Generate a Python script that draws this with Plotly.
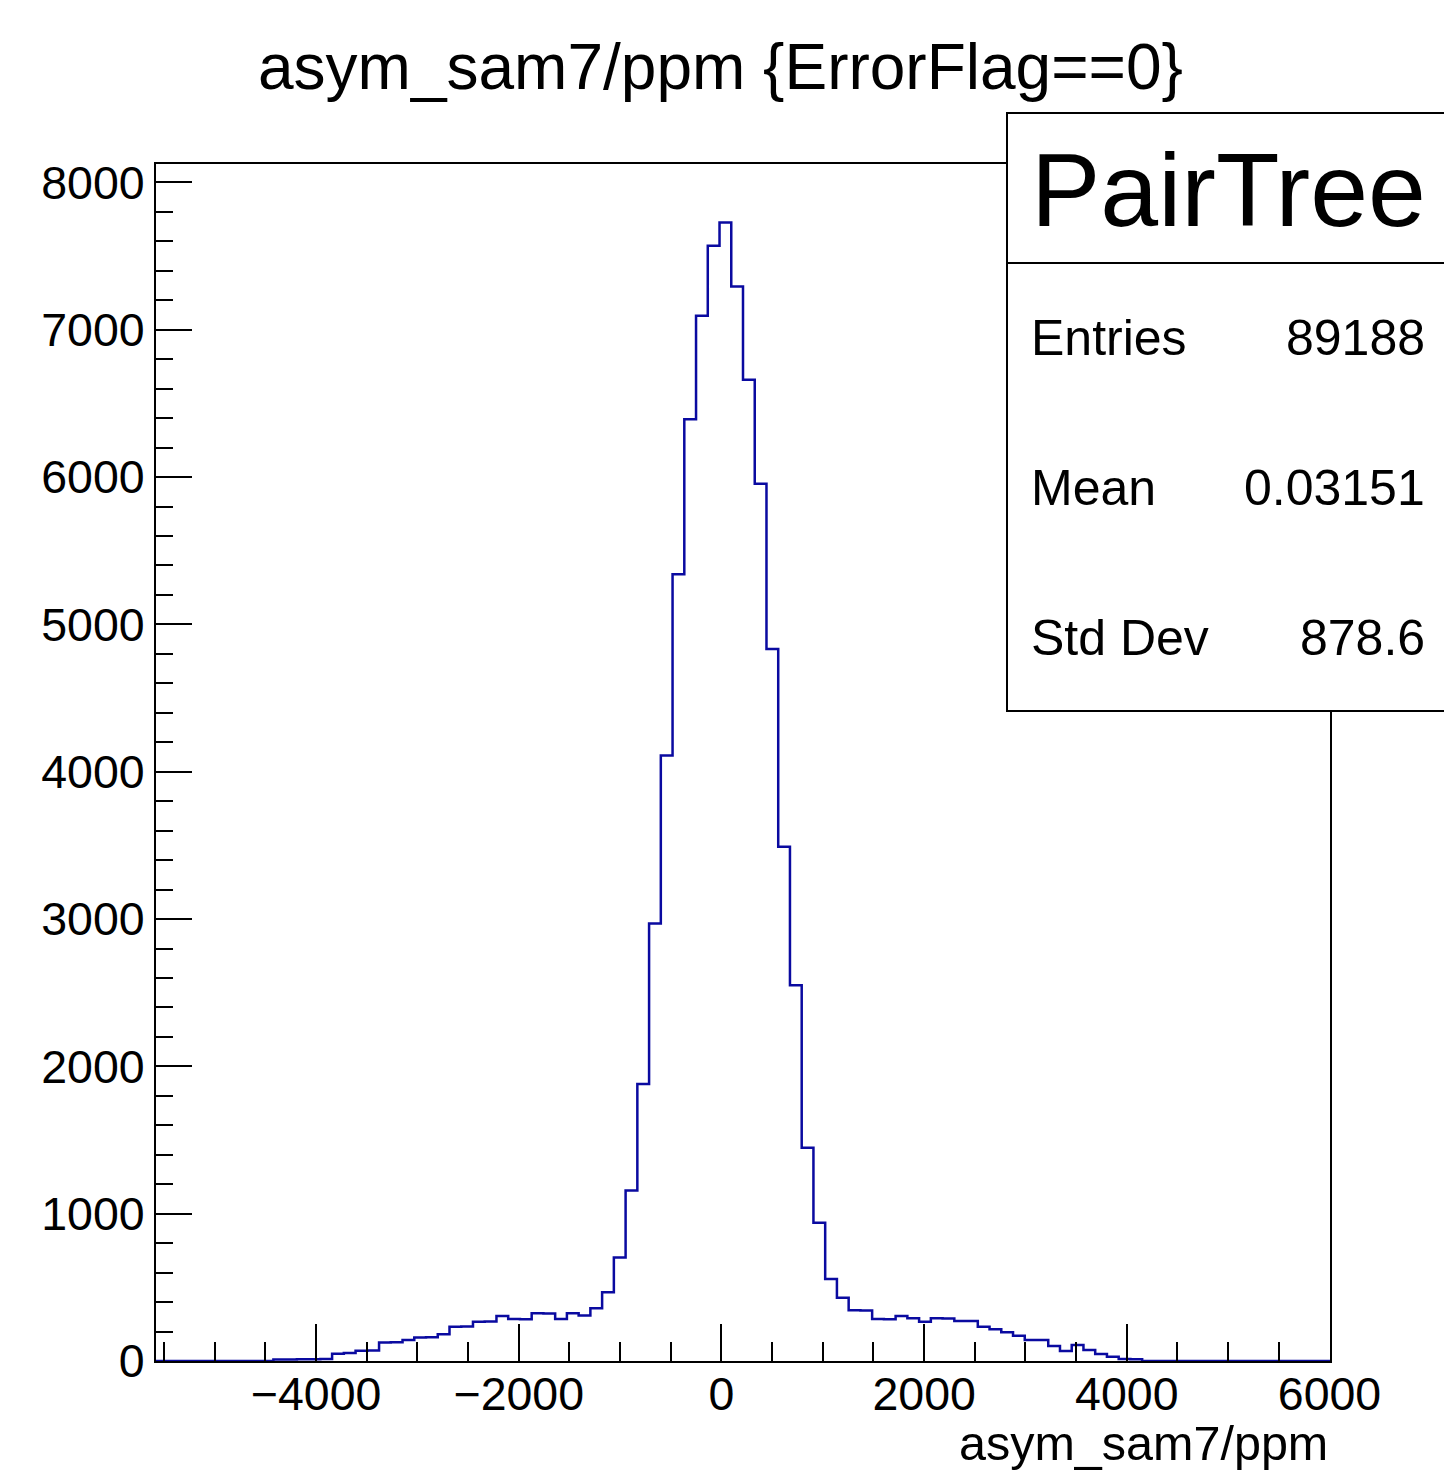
import plotly.graph_objects as go

# ---- data ----
title_text = "asym_sam7/ppm {ErrorFlag==0}"
x_title = "asym_sam7/ppm"
x_lo, x_hi, n_bins = -5580.0, 6005.0, 100
first_filled_bin = 10
filled_counts = [
    10, 11, 12, 12, 13,           # bins 10-14
    50, 54, 70, 72, 125, 128,     # 15-20
    143, 160, 162, 181, 232, 234, # 21-26
    266, 268, 305, 285, 284,      # 27-31
    324, 323, 285, 324, 308,      # 32-36
    358, 466, 703, 1158, 1880,    # 37-41
    2970, 4110, 5340, 6393, 7095, # 42-46
    7570, 7728, 7294, 6660, 5954, # 47-51
    4833, 3490, 2550, 1447, 939,  # 52-56
    557, 430, 344, 342, 285,      # 57-61
    284, 305, 290, 267, 290,      # 62-66
    289, 272, 271, 233, 215,      # 67-71
    195, 172, 143, 142, 102,      # 72-76
    68, 109, 75, 48, 29,          # 77-81
    14, 12,                       # 82-83
]
counts = [0] * first_filled_bin + filled_counts
counts = counts + [0] * (n_bins - len(counts))
y_max = 8125

stats_name = "PairTree"
stats_labels = ["Entries", "Mean", "Std Dev"]
stats_values = ["89188", "0.03151", "878.6"]

x_tick_step, x_minor_step = 2000, 500
y_tick_step, y_minor_step = 1000, 200

# ---- build figure ----
width = (x_hi - x_lo) / n_bins
edges = [x_lo + i * width for i in range(n_bins + 1)]
ys = counts + [counts[-1]]

FONT = "Liberation Sans, Arial, Helvetica, sans-serif"

fig = go.Figure()
fig.add_trace(go.Scatter(
    x=edges, y=ys, mode="lines", line_shape="hv",
    line=dict(color="#0a0aa0", width=2.5), showlegend=False, hoverinfo="skip"))

axis_common = dict(
    showgrid=False, zeroline=False, showline=True, linecolor="black", linewidth=2,
    mirror=True, ticks="inside", tickcolor="black", tickwidth=2,
    tickfont=dict(family=FONT, size=46.5, color="black"),
)
fig.update_xaxes(range=[x_lo, x_hi], tick0=0, dtick=x_tick_step, ticklen=37,
                 ticklabelstandoff=-9,
                 minor=dict(ticks="inside", dtick=x_minor_step, ticklen=19,
                            tickcolor="black", tickwidth=2),
                 **axis_common)
fig.update_yaxes(range=[0, y_max], tick0=0, dtick=y_tick_step, ticklen=36,
                 minor=dict(ticks="inside", dtick=y_minor_step, ticklen=17,
                            tickcolor="black", tickwidth=2),
                 **axis_common)

# page body has an 8px margin: work in screen pixels and convert
OFF = 8
W, H = 1452 - OFF, 1471 - OFF
scr_left, scr_right, scr_top, scr_bottom = 156, 1330, 164, 1361
L = scr_left - OFF
R = W - (scr_right - OFF)
T = scr_top - OFF
B = H - (scr_bottom - OFF)
pw, ph = W - L - R, H - T - B

def px(xpix):
    return (xpix - scr_left) / pw

def py(ypix):
    return (scr_bottom - ypix) / ph

annotations = [
    dict(text=title_text, x=px(720.5), y=py(67), xref="paper", yref="paper",
         xanchor="center", yanchor="middle", showarrow=False,
         font=dict(family=FONT, size=64, color="black")),
    dict(text=x_title, x=1.0, y=py(1443), xref="paper", yref="paper",
         xanchor="right", yanchor="middle", showarrow=False,
         font=dict(family=FONT, size=48.5, color="black")),
    dict(text=stats_name, x=px(1228.5), y=py(190), xref="paper", yref="paper",
         xanchor="center", yanchor="middle", showarrow=False,
         font=dict(family=FONT, size=104, color="black")),
]
row_y = [338, 488, 638]
for lab, val, yy in zip(stats_labels, stats_values, row_y):
    annotations.append(dict(text=lab, x=px(1029), y=py(yy), xref="paper", yref="paper",
                            xanchor="left", yanchor="middle", showarrow=False,
                            font=dict(family=FONT, size=50, color="black")))
    annotations.append(dict(text=val, x=px(1427), y=py(yy), xref="paper", yref="paper",
                            xanchor="right", yanchor="middle", showarrow=False,
                            font=dict(family=FONT, size=50, color="black")))

shapes = [
    dict(type="rect", xref="paper", yref="paper", x0=px(1007), x1=px(1449),
         y0=py(711), y1=py(113), fillcolor="white", line=dict(color="black", width=2),
         layer="above"),
    dict(type="line", xref="paper", yref="paper", x0=px(1007), x1=px(1449),
         y0=py(263), y1=py(263), line=dict(color="black", width=2), layer="above"),
]

fig.update_layout(
    width=W, height=H, margin=dict(l=L, r=R, t=T, b=B, autoexpand=False),
    paper_bgcolor="white", plot_bgcolor="white",
    annotations=annotations, shapes=shapes, showlegend=False,
)

fig.write_html("out.html")
